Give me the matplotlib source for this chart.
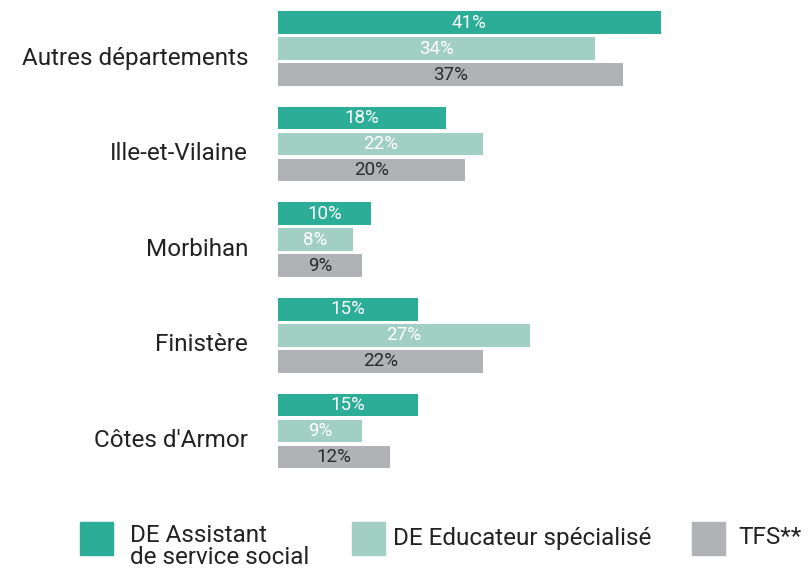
import matplotlib
matplotlib.use("Agg")
import matplotlib.pyplot as plt
from matplotlib.patches import Rectangle
from matplotlib.transforms import ScaledTranslation
import numpy as np

plt.rcParams['font.family'] = ['Liberation Sans Narrow', 'Roboto', 'DejaVu Sans']

departements = ["Autres départements", "Ille-et-Vilaine", "Morbihan", "Finistère", "Côtes d'Armor"]
assistant = [41, 18, 10, 15, 15]
educateur = [34, 22, 8, 27, 9]
tfs = [37, 20, 9, 22, 12]

series_names = ["DE Assistant\nde service social", "DE Educateur spécialisé", "TFS**"]
couleurs = ["#2bad98", "#a2cfc4", "#b1b2b6"]
couleurs_txt = ["white", "white", "#2a2a2a"]

W, H = 809, 572
fig = plt.figure(figsize=(W / 100, H / 100), dpi=100)

# axes en pixels : x de 278 a 698, y de 0 a 480
ax = fig.add_axes([278 / W, 1 - 480 / H, 420 / W, 480 / H])
ax.set_xlim(0, 45)
pas = 95.6
ax.set_ylim((480 - 48.5) / pas, -48.5 / pas)

y = np.arange(len(departements))
pitch = 26 / pas
hauteur = 22.5 / pas

for k, vals in enumerate([assistant, educateur, tfs]):
    pos = y + (k - 1) * pitch
    bars = ax.barh(pos, vals, height=hauteur, color=couleurs[k], left=0)
    for b, v in zip(bars, vals):
        ax.text(v / 2, b.get_y() + b.get_height() / 2, f"{v}%", ha="center", va="center",
                color=couleurs_txt[k], fontsize=13.5)

ax.set_yticks(y)
ax.set_yticklabels(departements, fontsize=17.5, color="#222222")
ax.tick_params(axis="y", length=0, pad=21.5)
# les noms sont un peu plus bas que le centre du groupe
decal = ScaledTranslation(0, -7 / 100, fig.dpi_scale_trans)
for lbl in ax.get_yticklabels():
    lbl.set_transform(lbl.get_transform() + decal)
ax.set_xticks([])
for s in ax.spines.values():
    s.set_visible(False)

# legende
carres_x = [80, 352, 692]
textes_x = [130, 393, 738]
for k in range(3):
    fig.add_artist(Rectangle((carres_x[k] / W, 1 - 555 / H), 33 / W, 33 / H,
                             transform=fig.transFigure, color=couleurs[k]))
    if k == 0:
        fig.text(textes_x[k] / W, 1 - 524 / H, series_names[k], ha="left", va="top",
                 fontsize=17.5, color="#222222", linespacing=0.92)
    else:
        fig.text(textes_x[k] / W, 1 - 538 / H, series_names[k], ha="left", va="center",
                 fontsize=17.5, color="#222222")

fig.savefig("out.png", dpi=100, facecolor="white")
